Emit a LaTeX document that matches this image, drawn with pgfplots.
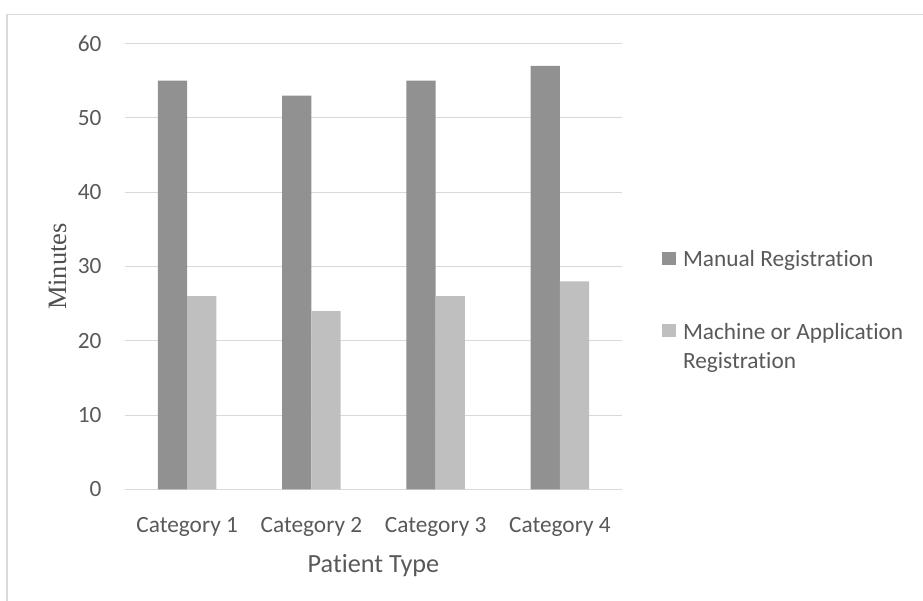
\documentclass[border=0pt]{standalone}
\usepackage{pgfplots}
\pgfplotsset{compat=1.18}
\usepackage{fontspec}
\setmainfont{Carlito}[Ligatures=NoCommon]
\newfontfamily\serifttl{Liberation Serif}

\definecolor{barDark}{HTML}{919191}
\definecolor{barLight}{HTML}{BFBFBF}
\definecolor{gridGray}{HTML}{D9D9D9}
\definecolor{txtGray}{HTML}{595959}

\pgfplotstableread{
idx manual machine
0   55     26
1   53     24
2   55     26
3   57     28
}\waittimes

\begin{document}
\begin{tikzpicture}[x=1pt,y=1pt]
  \begin{axis}[
    name=main,
    width=497pt, height=446pt, scale only axis,
    xmin=-0.5, xmax=3.5, ymin=0, ymax=60,
    ytick={0,10,...,60},
    xtick=data,
    xticklabels={Category 1, Category 2, Category 3, Category 4},
    ymajorgrids,
    grid style={gridGray, line width=1.3pt},
    axis line style={draw=none},
    major tick length=0pt,
    tick label style={font=\fontsize{23.3}{28}\selectfont, text=txtGray},
    yticklabel style={xshift=-20pt},
    xticklabel style={yshift=-24pt},
    xlabel={Patient Type},
    xlabel style={font=\fontsize{26.2}{31}\selectfont, text=txtGray,
      at={(axis description cs:0.5,0)}, anchor=center, yshift=-76pt},
    ylabel={Minutes},
    ylabel style={font=\serifttl\fontsize{26.5}{30}\selectfont, text=txtGray!90!black,
      at={(axis description cs:-0.136,0.5)}, anchor=center},
    /pgf/number format/assume math mode=true,
    ybar, bar width=29.3pt,
    legend cell align=left,
    legend style={draw=none, fill=none, inner sep=0pt,
      at={(axis description cs:1.0805,0.542)}, anchor=north west,
      font=\fontsize{23.3}{29}\selectfont, text=txtGray,
      row sep=48pt,
      /tikz/every odd column/.append style={column sep=5.5pt}},
    legend image code/.code={\fill[#1] (0pt,-6.6pt) rectangle (13.3pt,6.6pt);},
  ]
    \addplot[fill=barDark, draw=none, bar shift=-14.65pt] table[x=idx, y=manual] {\waittimes};
    \addplot[fill=barLight, draw=none, bar shift=14.65pt] table[x=idx, y=machine] {\waittimes};
    \legend{Manual Registration,
      {\begin{tabular}[t]{@{}l@{}}Machine or Application\\Registration\end{tabular}}}
  \end{axis}

  % chart frame and page extent, both taken from the plot box corner
  \begin{scope}[shift={(main.south west)}]
    \draw[gridGray, line width=1.5pt] (-118,-111.5) -- (-118,475.2) -- (798,475.2);
    \pgfresetboundingbox
    \path[use as bounding box] (-125,-111.5) rectangle (798,489.5);
  \end{scope}
\end{tikzpicture}
\end{document}
